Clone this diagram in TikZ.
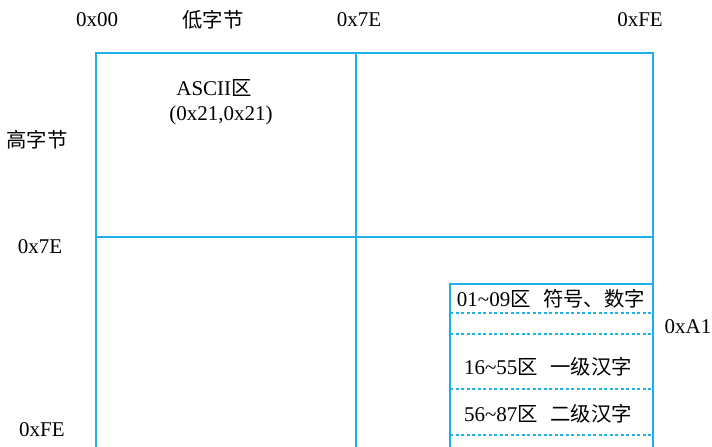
\documentclass[tikz,border=0pt]{standalone}
\usepackage{fontspec}
\setmainfont{Liberation Serif}
\newfontfamily\cjk{Noto Sans CJK SC}[Scale=0.97]
\definecolor{gridblue}{RGB}{30,176,232}
\begin{document}
\begin{tikzpicture}[x=1pt,y=-1pt,
  gridline/.style={draw=gridblue,line width=1.8pt},
  dashline/.style={draw=gridblue,line width=1.6pt,dash pattern=on 3pt off 2.5pt},
  lbl/.style={font=\fontsize{21}{24}\selectfont,inner sep=0pt,anchor=center}]
\useasboundingbox (0,0) rectangle (712,447);
\clip (0,0) rectangle (712,447);
% main grid
\coordinate (tl) at (96,53);
\coordinate (tm) at (356,53);
\coordinate (tr) at (653,53);
\coordinate (ml) at (96,237);
\coordinate (mr) at (653,237);
\coordinate (bl) at (96,460);
\coordinate (bm) at (356,460);
\coordinate (br) at (653,460);
\draw[gridline] (bl) -- (tl) -- (tr) -- (br);
\draw[gridline] (tm) -- (bm);
\draw[gridline] (ml) -- (mr);
% inner box
\coordinate (itl) at (450,284);
\coordinate (itr) at (653,284);
\coordinate (ibl) at (450,460);
\draw[gridline] (ibl) -- (itl) -- (itr);
\foreach \yy/\nm in {313/a,334/b,389/c,435/d}{
  \coordinate (dl\nm) at (450,\yy);
  \coordinate (dr\nm) at (653,\yy);
  \draw[dashline] (dl\nm) -- (dr\nm);
}
% labels
\node[lbl] (x00) at (97,20) {0x00};
\node[lbl] (low) at (213,20) {\cjk 低字节};
\node[lbl] (x7e) at (359,20) {0x7E};
\node[lbl] (xfe) at (640,20) {0xFE};
\node[lbl] (ascii) at (214,88) {ASCII{\cjk 区}};
\node[lbl] (code) at (221,115) {(0x21,0x21)};
\node[lbl] (high) at (37,140) {\cjk 高字节};
\node[lbl] (y7e) at (40,247) {0x7E};
\node[lbl] (yfe) at (42,430) {0xFE};
\node[lbl] (ya1) at (688,327) {0xA1};
\node[lbl] (z1) at (551,299) {01\char`~09{\cjk 区}\hspace{0.6em}{\cjk 符号、数字}};
\node[lbl] (z2) at (548,367) {16\char`~55{\cjk 区}\hspace{0.6em}{\cjk 一级汉字}};
\node[lbl] (z3) at (548,414) {56\char`~87{\cjk 区}\hspace{0.6em}{\cjk 二级汉字}};
\end{tikzpicture}
\end{document}
